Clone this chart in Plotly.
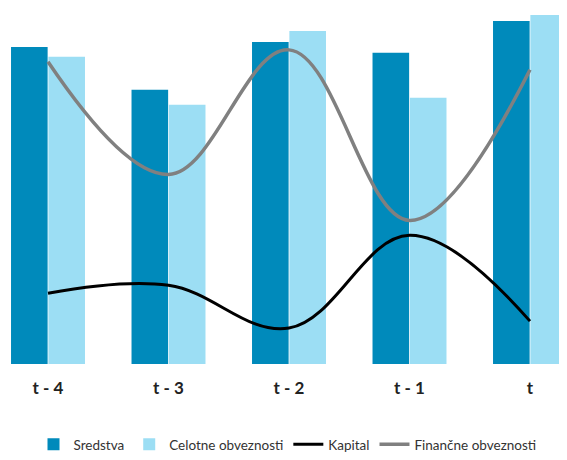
import plotly.graph_objects as go

categories = ["t - 4", "t - 3", "t - 2", "t - 1", "t"]
sredstva = [318, 275, 323, 312, 344]
celotne_obveznosti = [308, 260, 334, 267, 350]
kapital = [71, 79, 36, 129, 43]
financne_obveznosti = [303, 190, 315, 144, 295]

fig = go.Figure()
fig.add_trace(go.Bar(x=categories, y=sredstva, name="Sredstva",
                     marker=dict(color="#008ABB", line=dict(color="#005F80", width=0))))
fig.add_trace(go.Bar(x=categories, y=celotne_obveznosti, name="Celotne obveznosti",
                     marker=dict(color="#9CDEF4", line=dict(color="white", width=0))))
fig.add_trace(go.Scatter(x=categories, y=kapital, name="Kapital", mode="lines",
                         line=dict(color="black", width=3, shape="spline", smoothing=1.1)))
fig.add_trace(go.Scatter(x=categories, y=financne_obveznosti, name="Finančne obveznosti", mode="lines",
                         line=dict(color="#808080", width=3.5, shape="spline", smoothing=1.1)))

fig.update_layout(
    width=559, height=452,
    margin=dict(l=0, r=0, t=0, b=95),
    plot_bgcolor="white", paper_bgcolor="white",
    barmode="group", bargap=0.38, bargroupgap=0.02,
    font=dict(family="Lato, Open Sans, sans-serif", color="#333333"),
    showlegend=True,
    legend=dict(orientation="h", x=0.50, xanchor="center", y=-0.227, yanchor="middle",
                font=dict(size=13.5, color="#333333"), itemwidth=30, traceorder="normal"),
    xaxis=dict(type="category", range=[-0.332, 4.307], showgrid=False, zeroline=False,
               showline=False, ticks="", ticklabelstandoff=12,
               tickfont=dict(size=17, color="#222222", family="Lato, Open Sans, sans-serif", weight="bold")),
    yaxis=dict(range=[0, 357], visible=False, showgrid=False, zeroline=False),
)

fig.write_html("out.html")
